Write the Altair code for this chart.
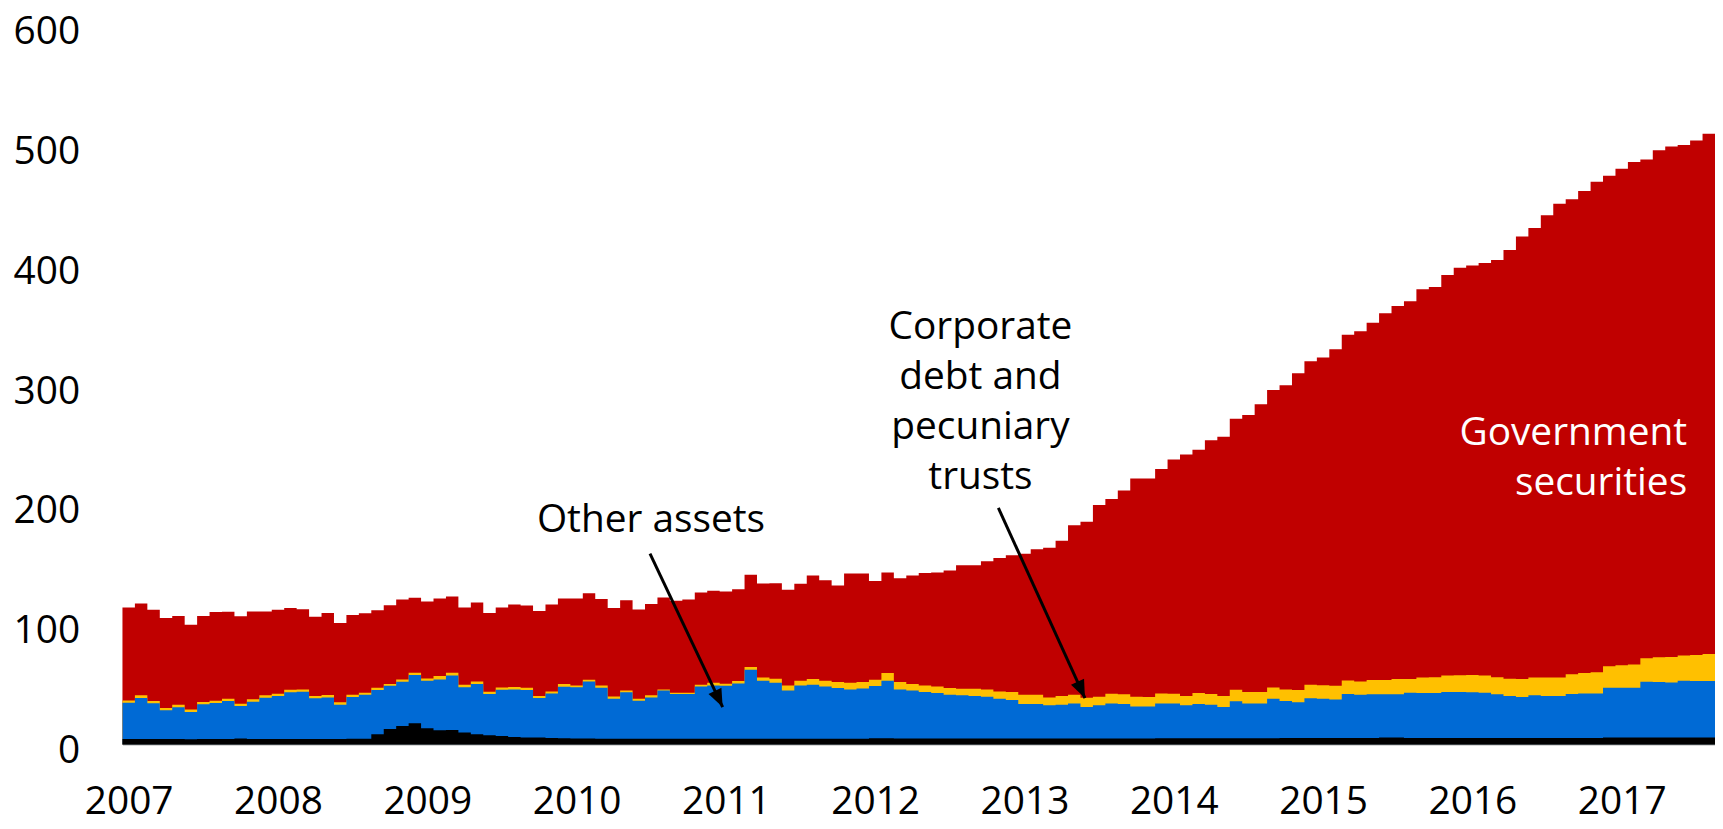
import altair as alt
import pandas as pd

# Monthly observations, Jan 2007 .. Aug 2017 (128 months); cumulative stack levels
total = [114.4,117.7,112.5,105.5,107.2,100.0,107.2,110.5,110.8,107.0,111.0,111.0,
         112.5,113.9,113.0,106.7,109.8,101.4,108.0,109.5,112.0,116.3,121.0,122.4,
         119.4,121.9,123.6,114.4,118.6,109.7,114.4,116.9,116.0,111.4,116.9,121.9,
         121.9,126.3,121.4,113.9,120.5,112.7,117.2,122.7,119.9,121.0,126.9,128.3,
         127.8,129.6,141.8,134.4,134.6,129.1,134.1,141.0,137.1,132.7,142.7,142.7,
         136.5,143.5,138.8,141.0,143.2,143.5,145.2,149.6,149.6,152.9,155.7,157.9,
         159.3,162.9,164.3,170.0,183.0,186.0,200.0,205.0,212.0,222.0,222.0,230.0,
         238.0,242.0,246.0,254.0,257.0,272.0,275.0,284.0,296.0,300.0,310.0,320.0,
         323.0,330.0,342.0,345.0,352.0,360.0,366.0,370.0,380.0,382.0,392.0,398.0,
         400.0,402.0,404.5,412.8,424.1,431.3,441.9,451.5,455.2,462.1,469.8,474.8,
         480.6,486.4,488.4,496.1,499.2,500.5,504.2,510.0]

corp_top = [36.8,41.0,36.3,30.5,33.2,29.1,35.5,36.6,38.2,34.1,37.7,41.0,
            42.4,45.7,45.9,40.4,41.3,35.2,41.5,43.2,47.4,50.4,54.3,59.8,
            55.1,57.1,59.8,49.9,52.6,44.0,47.5,47.9,47.4,40.4,44.3,50.4,
            49.3,54.0,49.3,40.1,45.1,38.2,41.0,46.0,43.2,43.2,49.9,51.5,
            50.7,52.9,64.6,55.9,54.8,49.3,53.2,54.6,53.2,52.1,51.5,52.1,
            54.0,59.6,52.1,50.4,49.3,48.5,47.1,46.5,46.5,46.0,44.3,43.8,
            41.6,41.6,39.3,40.5,41.6,39.0,39.9,42.4,41.9,39.9,39.6,42.6,
            42.4,40.5,42.9,42.1,40.5,45.7,43.8,43.8,47.6,46.0,45.5,49.9,
            49.5,49.0,53.5,52.6,53.8,53.8,54.6,54.6,56.0,56.2,57.6,57.8,
            57.9,57.6,56.2,54.8,54.6,56.0,56.0,56.0,58.7,59.6,60.4,65.4,
            66.2,66.7,72.0,72.9,73.1,74.2,74.8,75.6]

other_top = [34.9,38.8,34.4,28.5,31.0,27.2,33.5,34.6,36.3,32.1,35.7,39.0,
             40.4,43.5,44.0,38.5,39.3,33.2,39.6,41.5,45.4,49.0,52.4,57.9,
             53.2,54.3,57.6,47.7,50.4,42.1,45.6,46.0,45.4,38.8,42.6,48.2,
             47.7,52.6,47.4,38.2,43.5,36.6,39.3,45.0,42.1,42.1,48.5,49.3,
             49.0,50.9,62.3,53.2,51.5,45.0,49.3,49.9,48.5,47.1,46.0,46.8,
             48.8,53.2,46.0,45.1,43.8,43.0,41.6,41.0,40.5,39.9,38.2,37.1,
             33.8,33.8,32.7,33.2,34.3,31.3,32.7,34.3,33.8,31.8,31.6,34.3,
             34.3,32.7,33.8,33.2,31.3,36.0,34.3,34.3,38.2,36.2,35.2,38.5,
             38.1,37.5,42.1,41.6,41.9,41.9,41.9,43.2,42.9,42.9,43.8,43.8,
             43.5,43.2,41.9,40.4,39.6,41.0,40.4,40.4,42.1,42.6,42.6,47.4,
             47.4,47.4,52.4,52.1,51.8,53.2,53.0,53.0]

cash_top = [4.5,4.5,4.6,4.5,4.5,4.4,4.5,4.5,4.5,5.0,4.5,4.5,
            4.5,4.5,4.5,4.5,4.5,4.5,4.8,4.8,8.6,13.0,15.5,17.7,
            13.6,11.9,12.0,10.0,8.6,7.8,7.0,6.2,5.8,5.8,5.5,5.2,
            5.0,5.0,4.8,4.8,4.8,4.8,4.8,4.8,4.8,4.8,4.8,4.8,
            4.8,4.8,4.8,4.8,4.8,4.8,4.8,4.8,4.8,4.8,4.8,4.8,
            5.2,5.2,5.0,5.0,5.0,5.0,5.0,5.0,5.0,5.0,5.0,5.0,
            5.0,5.0,5.0,5.0,5.0,5.0,5.0,5.0,5.0,5.0,5.0,5.2,
            5.2,5.2,5.2,5.2,5.2,5.2,5.2,5.2,5.2,5.5,5.5,5.5,
            5.5,5.5,5.5,5.5,5.5,5.8,5.8,5.5,5.5,5.5,5.5,5.5,
            5.5,5.5,5.5,5.5,5.5,5.5,5.5,5.5,5.5,5.5,5.5,5.8,
            5.8,5.8,5.8,5.8,5.8,5.8,5.8,5.8]

years = [str(y) for y in range(2007, 2018)]

n = len(total)
# step-after areas: one row per month plus a closing row at the right edge
df = pd.DataFrame({
    "t": list(range(n)) + [n],
    "total": total + [total[-1]],
    "corp": corp_top + [corp_top[-1]],
    "other": other_top + [other_top[-1]],
    "cash": cash_top + [cash_top[-1]],
})

FONT = "Open Sans"
XS = alt.Scale(domain=[0, 128], nice=False, zero=False)
YS = alt.Scale(domain=[0, 600], nice=False)

xaxis = alt.Axis(values=[0.5 + 12 * k for k in range(len(years))],
                 labelExpr="toString(2007 + floor(datum.value / 12))",
                 ticks=False, grid=False, domain=True, domainColor="#c8c8c8",
                 domainWidth=1.5, labelFont=FONT, labelFontSize=39,
                 labelColor="#000000", labelBaseline="alphabetic",
                 labelPadding=69, title=None, labelFlush=False, labelOverlap=False)
yaxis = alt.Axis(values=[0, 100, 200, 300, 400, 500, 600], ticks=False, grid=False,
                 domain=False, labelFont=FONT, labelFontSize=39,
                 labelColor="#000000", labelPadding=43, labelOffset=6,
                 labelFlush=False, title=None)


def X(field):
    return alt.X(f"{field}:Q", scale=XS, axis=xaxis)


def Y(field):
    return alt.Y(f"{field}:Q", scale=YS, axis=yaxis)


def area(field, color):
    return alt.Chart(df).mark_area(color=color, interpolate="step-after",
                                   opacity=1).encode(
        x=X("t"), y=Y(field), y2=alt.datum(0))


red = area("total", "#C00000")
yellow = area("corp", "#FFC000")
blue = area("other", "#006AD5")
black = area("cash", "#000000")

# annotations
labels = pd.DataFrame({
    "text": ["Other assets", "Corporate\ndebt and\npecuniary\ntrusts"],
    "x": [42.48, 68.96],
    "y": [177.5, 338.9],
})
ann = alt.Chart(labels).mark_text(font=FONT, fontSize=39, color="#000000",
                                  align="center", baseline="alphabetic",
                                  lineBreak="\n", lineHeight=50.5).encode(
    x=X("x"), y=Y("y"), text="text:N")

gov = pd.DataFrame({"text": ["Government\nsecurities"], "x": [125.76], "y": [249.9]})
gov_txt = alt.Chart(gov).mark_text(font=FONT, fontSize=39, color="#ffffff",
                                   align="right", baseline="alphabetic",
                                   lineBreak="\n", lineHeight=50).encode(
    x=X("x"), y=Y("y"), text="text:N")

arrows = pd.DataFrame({
    "x": [42.4, 70.4], "y": [159.3, 197.5],
    "x2": [48.24, 77.36], "y2": [31.2, 38.7],
    "angle": [154.6, 155.5],
})
lines = alt.Chart(arrows).mark_rule(color="#000000", strokeWidth=3).encode(
    x=X("x"), y=Y("y"), x2="x2:Q", y2="y2:Q")
heads = alt.Chart(arrows).mark_point(shape="M0,0L-0.8,2L0.8,2Z", size=324,
                                     filled=True, color="#000000", opacity=1).encode(
    x=X("x2"), y=Y("y2"),
    angle=alt.Angle("angle:Q", scale=None))

chart = alt.layer(red, yellow, blue, black, lines, heads, ann, gov_txt).properties(
    width=1600, height=722,
    background="#ffffff",
    autosize=alt.AutoSizeParams(type="none"),
    padding={"left": 115, "top": 16, "right": 0, "bottom": 82},
).configure_view(stroke=None)

chart.save("out.html", embed_options={"renderer": "svg", "actions": False})
